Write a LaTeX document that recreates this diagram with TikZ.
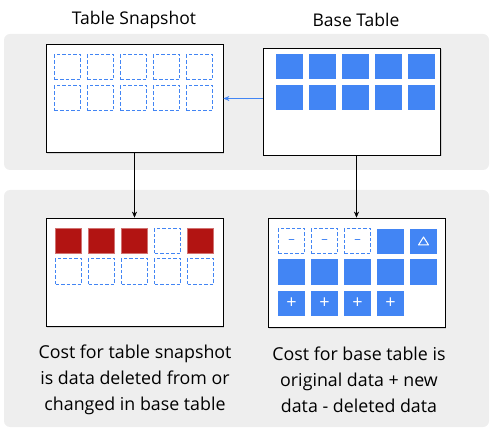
\documentclass[tikz,border=0pt]{standalone}
\usepackage{fontspec}
\setmainfont{Open Sans}
\usetikzlibrary{arrows.meta,shadows,calc}

\definecolor{panelgray}{RGB}{238,238,238}
\definecolor{gblue}{RGB}{66,133,244}
\definecolor{gred}{RGB}{178,20,18}

\tikzset{
  panel/.style={fill=panelgray,rounded corners=6pt,draw=none},
  tablebox/.style={draw=black,thick,fill=white,minimum width=177pt,minimum height=108pt,
    drop shadow={shadow xshift=1pt,shadow yshift=-1.5pt,opacity=.25}},
  cell/.style={draw=gblue,dash pattern=on 3.5pt off 2pt,line width=1pt,minimum width=26pt,
    minimum height=25pt,inner sep=0pt,text=gblue,font=\fontsize{13}{13}\selectfont},
  full/.style={fill=gblue,minimum width=27pt,minimum height=25pt,inner sep=0pt,
    text=white,font=\fontsize{18}{18}\selectfont},
  gone/.style={fill=gred,draw=gred!60!white,minimum width=26pt,minimum height=25pt,inner sep=0pt},
  title/.style={font=\fontsize{17.5}{20}\selectfont},
  cost/.style={align=center,font=\fontsize{17.8}{26}\selectfont}
}

\begin{document}
\begin{tikzpicture}[x=1pt,y=-1pt]

      \useasboundingbox (0,0) rectangle (495,430);
      \fill[panelgray,rounded corners=6pt] (4,34) rectangle (489,170);
      \fill[panelgray,rounded corners=6pt] (4,190) rectangle (489,427);

      \node[title] (snaptitle) at (134,20) {Table Snapshot};
      \node[title] (basetitle) at (356,20) {Base Table};

      \node[tablebox] (snap)  at (134.5,98.5) {};
      \node[tablebox,minimum height=107pt] (base) at (352,101.5) {};
      \node[tablebox] (snapcost) at (134.5,272) {};
      \node[tablebox,minimum height=109pt] (basecost) at (356.5,272.5) {};

      % snapshot at creation time
      \begin{scope}[every node/.style={cell}]
        \node (a1) at (67.5,67.5)  {};
        \node (a2) at (100.5,67.5) {};
        \node (a3) at (133.5,67.5) {};
        \node (a4) at (166.5,67.5) {};
        \node (a5) at (199.5,67.5) {};
        \node (a6) at (67.5,98.5)  {};
        \node (a7) at (100.5,98.5) {};
        \node (a8) at (133.5,98.5) {};
        \node (a9) at (166.5,98.5) {};
        \node (a10) at (199.5,98.5) {};
      \end{scope}

      % base table
      \begin{scope}[every node/.style={full}]
        \node (b1) at (289.5,66.5) {};
        \node (b2) at (322.5,66.5) {};
        \node (b3) at (355.5,66.5) {};
        \node (b4) at (388.5,66.5) {};
        \node (b5) at (421.5,66.5) {};
        \node (b6) at (289.5,98)   {};
        \node (b7) at (322.5,98)   {};
        \node (b8) at (355.5,98)   {};
        \node (b9) at (388.5,98)   {};
        \node (b10) at (421.5,98)  {};
      \end{scope}

      % snapshot after changes
      \node[gone] (c1) at (68.5,241)  {};
      \node[gone] (c2) at (101.5,241) {};
      \node[gone] (c3) at (134.5,241) {};
      \node[cell] (c4) at (167.5,241) {};
      \node[gone] (c5) at (200.5,241) {};
      \begin{scope}[every node/.style={cell}]
        \node (c6) at (68.5,271.5)  {};
        \node (c7) at (101.5,271.5) {};
        \node (c8) at (134.5,271.5) {};
        \node (c9) at (167.5,271.5) {};
        \node (c10) at (200.5,271.5) {};
      \end{scope}

      % base table after changes
      \node[cell] (d1) at (291.5,241.5) {–};
      \node[cell] (d2) at (324.5,241.5) {–};
      \node[cell] (d3) at (357.5,241.5) {–};
      \node[full] (d4) at (390.5,241.5) {};
      \node[full] (d5) at (423.5,241.5) {};
      \draw[white,line width=1pt,line join=round] ($(d5)+(-5,3.5)$) -- ($(d5)+(5,3.5)$) -- ($(d5)+(0,-4.5)$) -- cycle;
      \begin{scope}[every node/.style={full}]
        \node (d6) at (291.5,272)  {};
        \node (d7) at (324.5,272)  {};
        \node (d8) at (357.5,272)  {};
        \node (d9) at (390.5,272)  {};
        \node (d10) at (423.5,272) {};
        \node (d11) at (291.5,303) {+};
        \node (d12) at (324.5,303) {+};
        \node (d13) at (357.5,303) {+};
        \node (d14) at (390.5,303) {+};
      \end{scope}

      \node[cost] (snaptext) at (135,380) {Cost for table snapshot\\is data deleted from or\\changed in base table};
      \node[cost] (basetext) at (359,380) {Cost for base table is\\original data + new\\data - deleted data};

      \begin{scope}[every edge/.style={draw,-{Stealth[length=6pt,width=5pt]}}]
        \path (base.west |- snap.east) edge[gblue] (snap.east);
        \path (snap.south) edge (snapcost.north);
        \path (basecost.north |- base.south) edge (basecost.north);
      \end{scope}

    \end{tikzpicture}
\end{document}
